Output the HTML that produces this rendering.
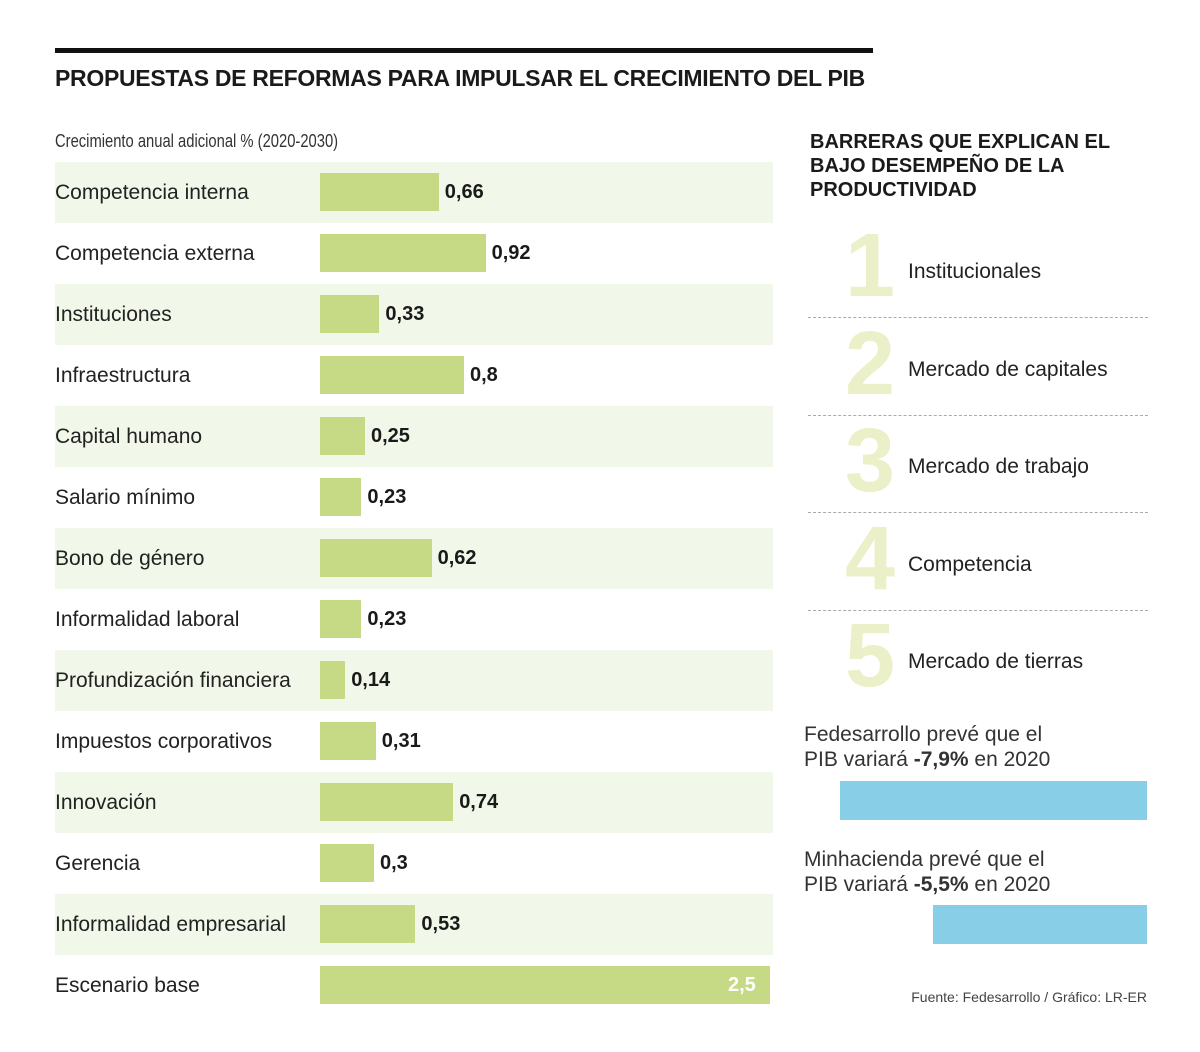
<!DOCTYPE html>
<html><head><meta charset="utf-8"><style>
body{margin:0;width:1200px;height:1052px;background:#fff;font-family:"Liberation Sans",sans-serif;color:#1a1a1a;position:relative;overflow:hidden}
.a{position:absolute;white-space:nowrap}
</style></head><body>
<div class="a" style="left:55px;top:48px;width:818px;height:5px;background:#111"></div>
<div class="a" style="left:55px;top:65px;font-size:23px;font-weight:bold;letter-spacing:-0.3px">PROPUESTAS DE REFORMAS PARA IMPULSAR EL CRECIMIENTO DEL PIB</div>
<div class="a" style="left:55px;top:131px;font-size:18px;color:#333;transform:scaleX(0.82);transform-origin:left">Crecimiento anual adicional % (2020-2030)</div>
<div id="chart"></div>
<div class="a" style="left:810px;top:130px;font-size:20px;font-weight:bold;line-height:24px">BARRERAS QUE EXPLICAN EL<br>BAJO DESEMPEÑO DE LA<br>PRODUCTIVIDAD</div>
<div id="barriers"></div>
<div class="a" style="left:804px;top:722px;font-size:21px;line-height:25px;color:#333">Fedesarrollo prevé que el<br>PIB variará <b>-7,9%</b> en 2020</div>
<div class="a" style="left:804px;top:847px;font-size:21px;line-height:25px;color:#333">Minhacienda prevé que el<br>PIB variará <b>-5,5%</b> en 2020</div>
<div id="gdp"></div>
<div class="a" style="right:53px;top:989px;font-size:14px;color:#444">Fuente: Fedesarrollo / Gráfico: LR-ER</div>
<script>
const categories=["Competencia interna","Competencia externa","Instituciones","Infraestructura","Capital humano","Salario mínimo","Bono de género","Informalidad laboral","Profundización financiera","Impuestos corporativos","Innovación","Gerencia","Informalidad empresarial","Escenario base"];
const values=[0.66,0.92,0.33,0.8,0.25,0.23,0.62,0.23,0.14,0.31,0.74,0.3,0.53,2.5];
const valueLabels=["0,66","0,92","0,33","0,8","0,25","0,23","0,62","0,23","0,14","0,31","0,74","0,3","0,53","2,5"];
const barriers=["Institucionales","Mercado de capitales","Mercado de trabajo","Competencia","Mercado de tierras"];
const gdpValues=[-7.9,-5.5];
const x=v=>v*180, rowY=i=>162+i*61;
const chart=document.getElementById('chart');
categories.forEach((c,i)=>{
  const y=rowY(i);
  if(i%2==0&&i<13){const bg=document.createElement('div');bg.className='a';
    
    
    bg.style.cssText=`left:55px;top:${y}px;width:718px;height:61px;background:#f1f7e9`;chart.appendChild(bg);}
  const l=document.createElement('div');l.className='a';
  
  
  l.style.cssText=`left:55px;top:${y+19}px;font-size:21px;color:#222`;l.textContent=c;chart.appendChild(l);
  const w=x(values[i]);
  const b=document.createElement('div');b.className='a';
  
  
  b.style.cssText=`left:320px;top:${y+11}px;width:${w}px;height:38px;background:#c6da86`;chart.appendChild(b);
  const v=document.createElement('div');v.className='a';
  
  
  if(i==13) v.style.cssText=`left:${320+w-42}px;top:${y+19}px;font-size:20px;font-weight:bold;color:#fff`;
  else v.style.cssText=`left:${320+w+6}px;top:${y+19}px;font-size:20px;font-weight:bold`;
  v.textContent=valueLabels[i];chart.appendChild(v);
});
const bl=document.getElementById('barriers');
barriers.forEach((t,i)=>{
  const y=222+i*97.5;
  const n=document.createElement('div');n.className='a';
  
  
  n.style.cssText=`left:845px;top:${y-6}px;font-size:90px;font-weight:bold;color:#ebf0c8;line-height:100px`;n.textContent=i+1;bl.appendChild(n);
  const l=document.createElement('div');l.className='a';
  
  
  l.style.cssText=`left:908px;top:${y+38}px;font-size:21px;color:#222`;l.textContent=t;bl.appendChild(l);
  if(i<4){const d=document.createElement('div');d.className='a';
    
    
    d.style.cssText=`left:808px;top:${y+95}px;width:340px;border-top:1.5px dashed #aaa`;bl.appendChild(d);}
});
const g=document.getElementById('gdp');
gdpValues.forEach((v,i)=>{
  const w=Math.abs(v)*38.9;
  const b=document.createElement('div');b.className='a';
  
  
  b.style.cssText=`left:${1147-w}px;top:${781+i*124}px;width:${w}px;height:39px;background:#87cee6`;g.appendChild(b);
});
</script>
</body></html>
